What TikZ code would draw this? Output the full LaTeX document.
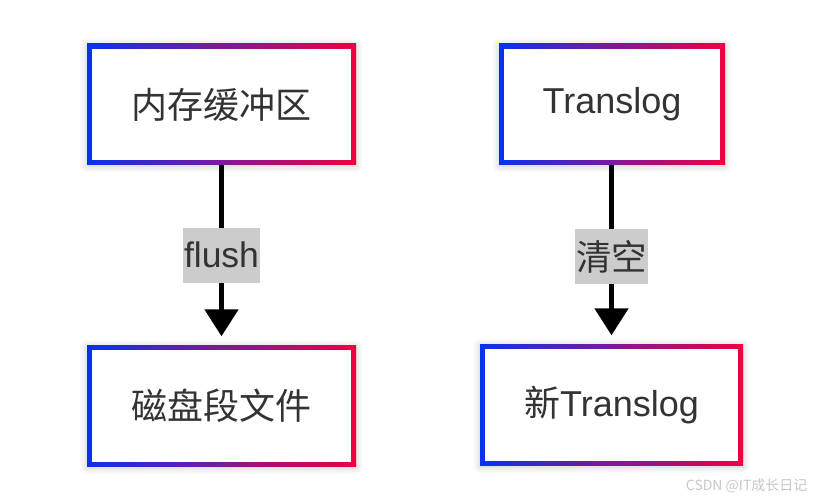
\documentclass[tikz,border=0pt]{standalone}
\usepackage{fontspec}
\setmainfont{Liberation Sans}
\newfontfamily\cjk{Noto Sans CJK SC}
\usetikzlibrary{arrows.meta,shadows.blur}
\definecolor{bblue}{RGB}{8,50,240}
\definecolor{rred}{RGB}{240,0,64}
\definecolor{txt}{RGB}{51,51,51}
\definecolor{lblgray}{RGB}{204,204,204}
\tikzset{
  gbox/.style={minimum height=121pt, inner sep=0pt, text=txt,
    font=\fontsize{36}{42}\selectfont,
    left color=bblue, right color=rred, shading angle=90,
    blur shadow={shadow xshift=0pt, shadow yshift=-1pt, shadow blur radius=7pt, shadow opacity=22},
    path picture={\fill[white] ([shift={(5pt,-5pt)}]path picture bounding box.north west) rectangle ([shift={(-5pt,5pt)}]path picture bounding box.south east);}},
  flow/.style={line width=5pt, -{Triangle[width=33pt,length=27pt]}, shorten >=9pt},
  lbl/.style={fill=lblgray, text=txt, inner xsep=1pt, inner ysep=0pt, minimum height=55pt,
    font=\fontsize{35.5}{42}\selectfont},
}
\begin{document}
\begin{tikzpicture}[x=1pt,y=-1pt]
\useasboundingbox (0,0) rectangle (822,502);
\node[gbox, minimum width=269pt] (a) at (221.5,104.5) {\cjk 内存缓冲区};
\node[gbox, minimum width=226pt] (b) at (612,104.5) {Translog};
\node[gbox, minimum width=269pt] (c) at (221.5,406) {\cjk 磁盘段文件};
\node[gbox, minimum width=263pt] (d) at (611.5,405) {{\cjk 新}Translog};
\draw[flow] (a.south) -- (c.north) node[lbl, midway] (l1) {flush};
\draw[flow] (b.south -| d.north) -- (d.north) node[lbl, pos=0.51] (l2) {\cjk 清空};
\node[text=black!22, font=\cjk\fontsize{14}{16}\selectfont, anchor=east] (wm) at (811,486) {CSDN @IT成长日记};
\end{tikzpicture}
\end{document}
